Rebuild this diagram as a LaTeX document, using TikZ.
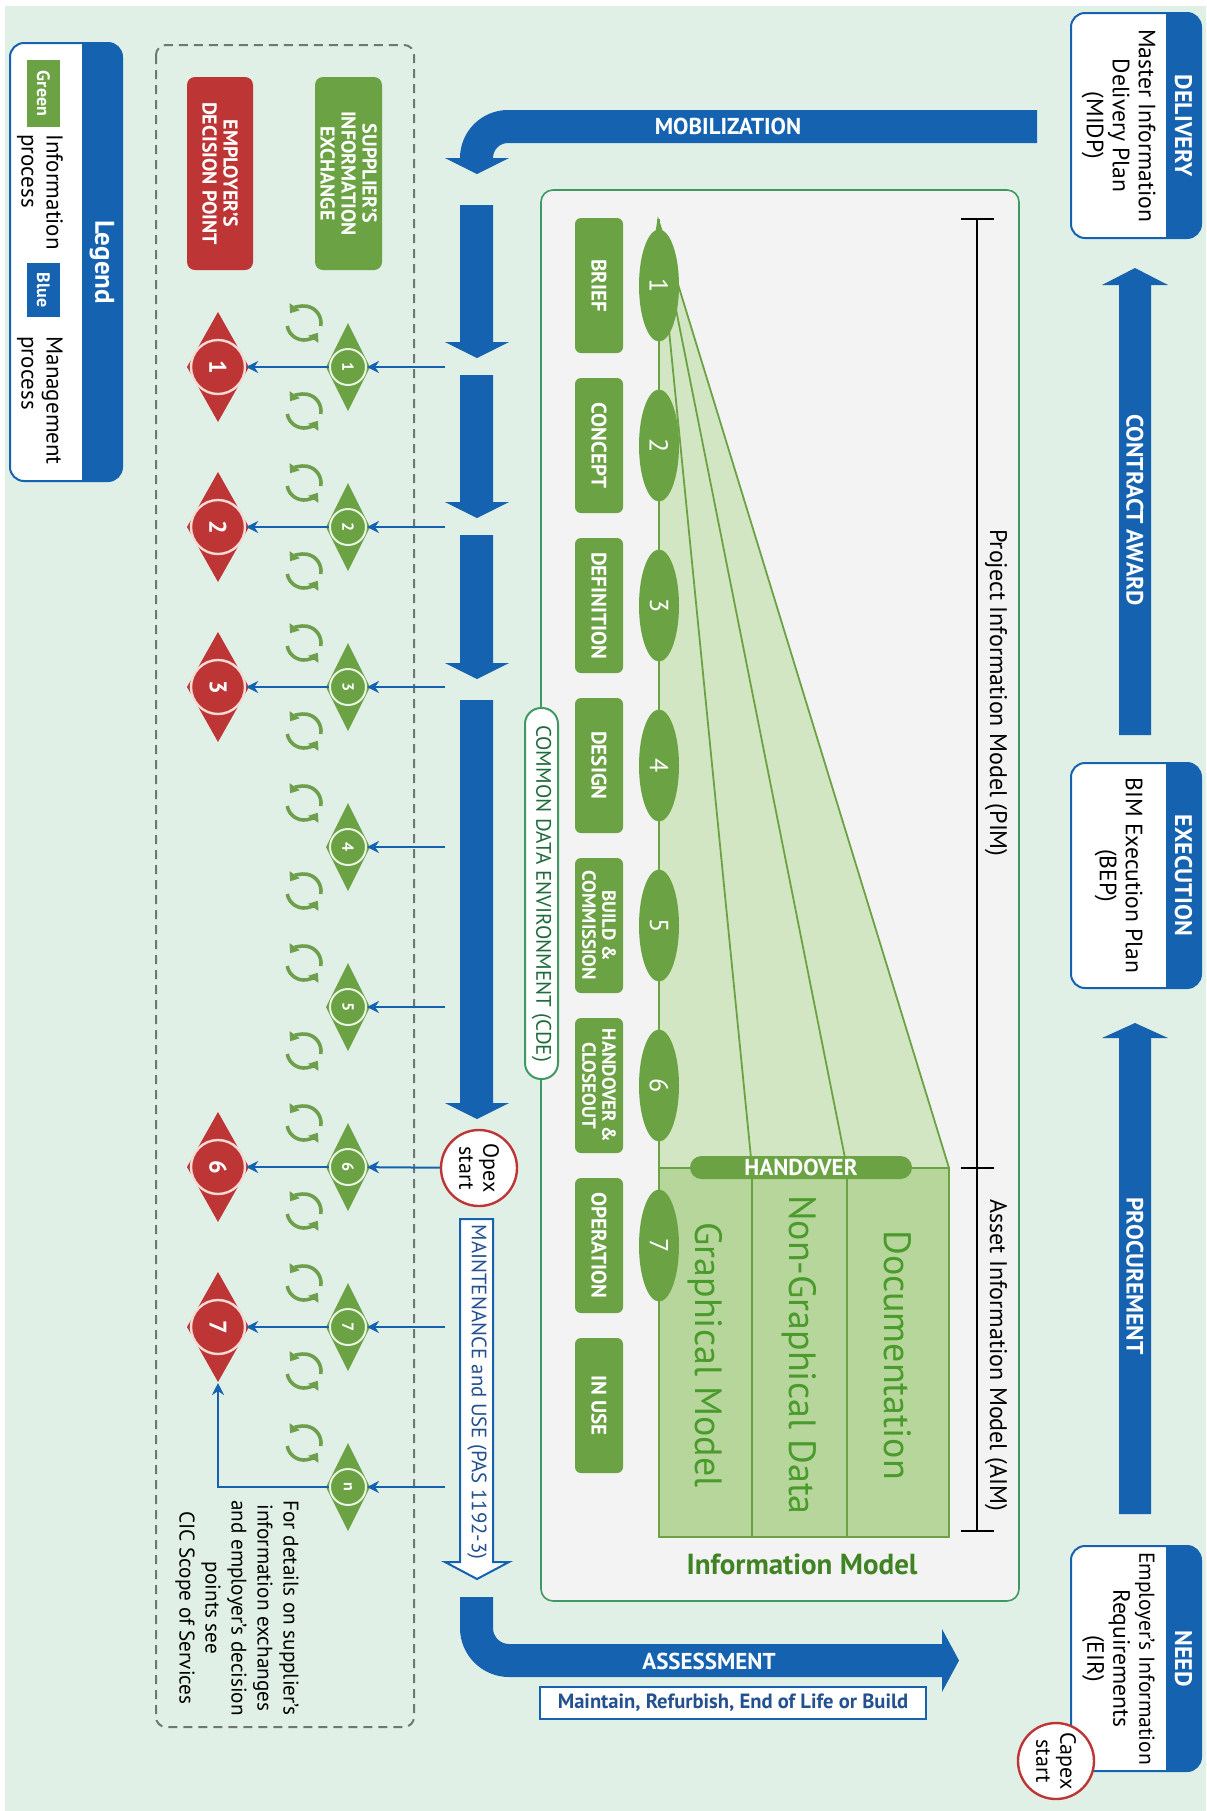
\documentclass[tikz,border=0pt]{standalone}
\usepackage{fontspec}
\setmainfont{PT Sans}
\usetikzlibrary{shapes.geometric,arrows.meta}

\definecolor{bg}{HTML}{E0F0E6}
\definecolor{mblue}{HTML}{1462B0}
\definecolor{igreen}{HTML}{6BA244}
\definecolor{cycgreen}{HTML}{6E9F4C}
\definecolor{dred}{HTML}{BE3535}
\definecolor{panelfill}{HTML}{F2F3F2}
\definecolor{pborder}{HTML}{3E9A62}
\definecolor{fanfill}{HTML}{D3E6C3}
\definecolor{imfill}{HTML}{B7D69B}
\definecolor{imtext}{HTML}{4A9A2C}
\definecolor{cdetext}{HTML}{1F6B3C}
\definecolor{navytext}{HTML}{23508F}
\definecolor{dashgray}{HTML}{6E7772}
\definecolor{gring}{HTML}{EAF4E2}
\definecolor{rring}{HTML}{F7DCD6}

\newcommand\fsz[2]{\fontsize{#1}{#2}\selectfont}

% management box: name, top, bottom, title, body
\newcommand\mgmtbox[5]{%
  \begin{scope}
    \clip[rounded corners=7pt] (1071,#2) rectangle (1201,#3);
    \fill[white] (1071,#2) rectangle (1166,#3);
    \fill[mblue] (1166,#2) rectangle (1201,#3);
  \end{scope}
  \draw[mblue,line width=1pt,rounded corners=7pt] (1071,#2) rectangle (1201,#3);
  \node[bandtitle] (#1title) at (1183.5,{(#2+#3)/2}) {#4};
  \node[bandbody] (#1body) at (1118.5,{(#2+#3)/2}) {#5};
}

% two-arrow exchange loop
\newcommand\cycleicon[2]{%
  \draw[cyc,shift={(#1,#2)}] (10:17) arc[start angle=10,end angle=-145,radius=17];
  \draw[cyc,shift={(#1,#2)}] (170:17) arc[start angle=170,end angle=35,radius=17];
}

\begin{document}
\begin{tikzpicture}[x=0.5pt,y=-0.5pt,
  turned/.style={rotate=-90},
  stagebox/.style={turned,fill=igreen,rounded corners=3pt,minimum width=67.5pt,minimum height=24pt,inner sep=1pt,text=white,font=\fsz{10.5}{10.5}\bfseries,align=center},
  phase/.style={turned,ellipse,fill=igreen,minimum width=56pt,minimum height=20pt,inner sep=0pt,text=white,font=\fsz{13}{13}},
  gmark/.style={turned,circle,fill=igreen,draw=gring,line width=1pt,minimum size=18pt,inner sep=0pt,text=white,font=\fsz{8}{8}\bfseries},
  rmark/.style={turned,circle,fill=dred,draw=rring,line width=1.2pt,minimum size=27pt,inner sep=0pt,text=white,font=\fsz{12}{12}\bfseries},
  flow/.style={draw=mblue,line width=1pt,-{Stealth[length=6pt,width=6pt]}},
  cyc/.style={draw=cycgreen,line width=1.8pt,-{Triangle[length=4pt,width=6pt]}},
  bandtitle/.style={turned,text=white,font=\fsz{12}{12}\bfseries},
  bandbody/.style={turned,align=center,font=\fsz{11.8}{13}},
  startmark/.style={turned,circle,fill=white,draw=dred,line width=1.2pt,minimum size=38pt,inner sep=0pt,align=center,font=\fsz{11}{12}},
  arrowlabel/.style={text=white,font=\fsz{11.8}{12}\bfseries}
]
\useasboundingbox (0,0) rectangle (1206,1811);
\fill[white] (0,0) rectangle (1206,1811);
\fill[bg] (5,6) rectangle (1206,1811);

% ---------- legend ----------
\begin{scope}
  \clip[rounded corners=7pt] (10,43) rectangle (122,481);
  \fill[white] (10,43) rectangle (82,481);
  \fill[mblue] (82,43) rectangle (122,481);
\end{scope}
\draw[mblue,line width=1pt,rounded corners=7pt] (10,43) rectangle (122,481);
\node[turned,text=white,font=\fsz{13.5}{14}\bfseries] (legtitle) at (102,262) {Legend};
\node[turned,fill=igreen,minimum width=33.5pt,minimum height=16.5pt,inner sep=0pt,text=white,font=\fsz{9}{9}\bfseries] (swgreen) at (43.5,93.5) {Green};
\node[turned,anchor=west,align=left,inner sep=0pt,font=\fsz{11.5}{12.5}] (leggreen) at (40,134) {Information\\process};
\node[turned,fill=mblue,minimum width=27pt,minimum height=16.5pt,inner sep=0pt,text=white,font=\fsz{9}{9}\bfseries] (swblue) at (43.5,290) {Blue};
\node[turned,anchor=west,align=left,inner sep=0pt,font=\fsz{11.5}{12.5}] (legblue) at (40,336) {Management\\process};

% ---------- exchange / decision region ----------
\draw[dashgray,line width=1pt,dash pattern=on 4.5pt off 3pt,rounded corners=5pt] (156,45) rectangle (414,1727);
\node[turned,fill=igreen,rounded corners=4pt,minimum width=96.5pt,minimum height=33.5pt,inner sep=1pt,text=white,align=center,font=\fsz{10}{10.5}\bfseries] (supplier) at (348.5,173.5) {SUPPLIER’S\\INFORMATION\\EXCHANGE};
\node[turned,fill=dred,rounded corners=4pt,minimum width=96.5pt,minimum height=33pt,inner sep=1pt,text=white,align=center,font=\fsz{10}{10.5}\bfseries] (employer) at (220,173.5) {EMPLOYER’S\\DECISION POINT};

% ---------- information model panel ----------
\draw[fill=panelfill,draw=pborder,line width=0.8pt,rounded corners=6pt] (541,190) rectangle (1019,1601);
\fill[fanfill] (658,219) -- (949,1168) -- (659,1168) -- cycle;
\draw[fill=imfill,draw=igreen,line width=1pt] (659,1168) rectangle (949,1537);
\draw[igreen,line width=1pt] (752,1168) -- (752,1537) (847,1168) -- (847,1537);
\draw[igreen,line width=0.9pt] (658,219) -- (752,1168) (658,219) -- (847,1168) (658,219) -- (949,1168);
\draw[igreen,line width=1.2pt] (659,219) -- (659,1192);
\draw[igreen,line width=1.2pt] (659,1168) -- (949,1168);
\fill[igreen] (655,235) -- (658,216) -- (662,235) -- cycle;

\foreach \i/\yy in {1/285.5,2/445.5,3/605.5,4/765.5,5/925.5,6/1085.5,7/1245.5}
  \node[phase] (ph\i) at (659,\yy) {\i};

\node[stagebox] (st1) at (599,285.5) {BRIEF};
\node[stagebox] (st2) at (599,445.5) {CONCEPT};
\node[stagebox] (st3) at (599,605.5) {DEFINITION};
\node[stagebox] (st4) at (599,765.5) {DESIGN};
\node[stagebox,font=\fsz{9.5}{10}\bfseries] (st5) at (599,925.5) {BUILD \&\\COMMISSION};
\node[stagebox,font=\fsz{9.5}{10}\bfseries] (st6) at (599,1085.5) {HANDOVER \&\\CLOSEOUT};
\node[stagebox] (st7) at (599,1245.5) {OPERATION};
\node[stagebox] (st8) at (599,1405.5) {IN USE};

\node[fill=igreen,rounded corners=5.75pt,minimum width=111pt,minimum height=11.5pt,inner sep=0pt,text=white,font=\fsz{11.5}{11.5}\bfseries] (handover) at (801,1167.5) {HANDOVER};

\node[turned,text=imtext,font=\fsz{19}{19}] (colgm) at (705.5,1355) {Graphical Model};
\node[turned,text=imtext,font=\fsz{19}{19}] (colng) at (799.5,1355) {Non-Graphical Data};
\node[turned,text=imtext,font=\fsz{19}{19}] (coldoc) at (898,1355) {Documentation};
\node[text=imtext!85!black,font=\fsz{14.5}{14.5}\bfseries] (imlabel) at (802,1564) {Information Model};

\draw[line width=0.8pt] (977,219) -- (977,1531) (961,219) -- (994,219) (961,1168) -- (994,1168) (961,1531) -- (994,1531);
\node[turned,font=\fsz{12}{12}] (pim) at (996,693) {Project Information Model (PIM)};
\node[turned,font=\fsz{12}{12}] (aim) at (996,1355) {Asset Information Model (AIM)};

\node[turned,draw=pborder,fill=white,line width=1pt,rounded corners=8pt,minimum width=185.5pt,minimum height=16.5pt,inner sep=0pt,text=cdetext,font=\fsz{10.5}{10.5}] (cde) at (541.5,893.5) {COMMON DATA ENVIRONMENT (CDE)};

% ---------- delivery flow arrows ----------
\foreach \t/\b/\a in {205/342/358,375/502/518,535/663/679,700/1103/1119}
  \fill[mblue] (460,\t) -- (493,\t) -- (493,\b) -- (509,\b) -- (477,\a) -- (445,\b) -- (460,\b) -- cycle;

\fill[mblue] (1037,110) -- (508,110) .. controls (481.5,110) and (460,131.5) .. (460,158) -- (445,158) -- (477,174) -- (509,158) -- (493,158) .. controls (493,149.7) and (499.7,143) .. (508,143) -- (1037,143) -- cycle;
\node[arrowlabel,font=\fsz{11.5}{12}\bfseries] (mob) at (728,126.5) {MOBILIZATION};

\draw[fill=white,draw=mblue,line width=1pt] (460,1219) -- (493,1219) -- (493,1562) -- (509,1562) -- (477,1579) -- (445,1562) -- (460,1562) -- cycle;
\node[turned,text=navytext,font=\fsz{10.4}{10.4}] (maint) at (477,1392) {MAINTENANCE and USE (PAS 1192-3)};

\fill[mblue] (460,1597) -- (460,1628) .. controls (460,1655) and (482,1677) .. (509,1677) -- (942,1677) -- (942,1692) -- (959,1660.5) -- (942,1629) -- (942,1644) -- (509,1644) .. controls (500.2,1644) and (493,1636.8) .. (493,1628) -- (493,1597) -- cycle;
\node[arrowlabel,font=\fsz{11.5}{12}\bfseries] (assess) at (709,1661) {ASSESSMENT};
\node[draw=mblue,fill=white,line width=1pt,minimum width=193pt,minimum height=16pt,inner sep=0pt,text=navytext,font=\fsz{10.3}{10.3}\bfseries] (options) at (733,1703) {Maintain, Refurbish, End of Life or Build};

\node[startmark] (opex) at (479,1168) {Opex\\start};

% ---------- exchanges and decision points ----------
\foreach \yy in {323,411,483,571,643,731,803,891,963,1051,1123,1211,1283,1371,1443}{
  \cycleicon{304}{\yy}
}

\foreach \k/\yy in {1/367,2/527,3/687,4/847,5/1007,6/1167,7/1327,n/1487}{
  \fill[igreen] (348,\yy-44) -- (370,\yy) -- (348,\yy+44) -- (326,\yy) -- cycle;
  \node[gmark] (g\k) at (348,\yy) {\k};
}
\foreach \k/\yy in {1/367,2/527,3/687,6/1167,7/1327}{
  \fill[dred] (218,\yy-55) -- (249,\yy) -- (218,\yy+55) -- (187,\yy) -- cycle;
  \node[rmark] (r\k) at (218,\yy) {\k};
  \draw[flow] (g\k) -- (r\k);
}
\foreach \k/\yy in {1/367,2/527,3/687,4/847,5/1007,7/1327,n/1487}{
  \coordinate (s\k) at (445,\yy);
  \draw[flow] (s\k) -- (g\k);
}
\draw[flow] (opex) -- (g6);
\coordinate (r7tip) at (218,1383);
\draw[flow] (gn) -| (r7tip);

\node[turned,align=center,font=\fsz{10.6}{13}] (note) at (237,1608) {For details on supplier’s\\information exchanges\\and employer’s decision\\points see\\CIC Scope of Services};

% ---------- management process ----------
\mgmtbox{delivery}{13}{238}{DELIVERY}{Master Information\\Delivery Plan\\(MIDP)}
\mgmtbox{execution}{763}{988}{EXECUTION}{BIM Execution Plan\\(BEP)}
\mgmtbox{need}{1546}{1771}{NEED}{\fsz{10.8}{12.5}Employer’s Information\\Requirements\\(EIR)}

\fill[mblue] (1119,735) -- (1119,285) -- (1102,285) -- (1135,268) -- (1168,285) -- (1151,285) -- (1151,735) -- cycle;
\node[turned,arrowlabel] (award) at (1135,510) {CONTRACT AWARD};
\fill[mblue] (1119,1514) -- (1119,1038) -- (1102,1038) -- (1135,1023) -- (1168,1038) -- (1151,1038) -- (1151,1514) -- cycle;
\node[turned,arrowlabel] (procure) at (1135,1276) {PROCUREMENT};

\node[startmark] (capex) at (1056,1761) {Capex\\start};
\end{tikzpicture}
\end{document}
